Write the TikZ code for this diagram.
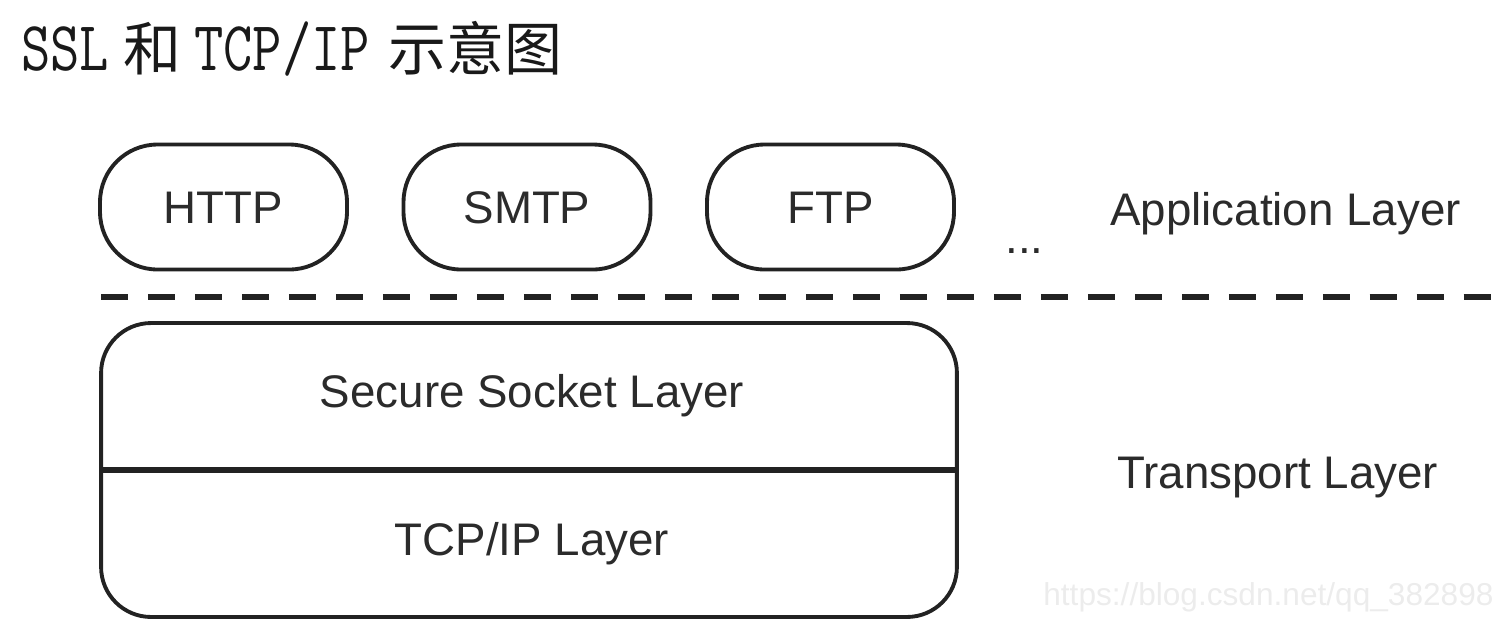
\documentclass[tikz,border=0pt]{standalone}
\usepackage{fontspec}
\usepackage{graphicx}
\setmainfont{Liberation Sans}
\newfontfamily\cjk{Noto Sans CJK SC}
\newcommand{\tlatin}[1]{\scalebox{0.81}[1]{\ttfamily\fontsize{40}{44}\selectfont #1}}
\definecolor{ink}{HTML}{222222}
\definecolor{txt}{HTML}{2B2B2B}
\definecolor{wm}{HTML}{ECECEC}
\tikzset{
  pill/.style={draw=ink, line width=2.2pt, rounded corners=1.15cm, minimum width=4.94cm, minimum height=2.5cm, inner sep=0pt},
  stackbox/.style={draw=ink, line width=2.2pt, rounded corners=1cm, minimum width=17.12cm, minimum height=5.88cm, inner sep=0pt},
  lbl/.style={text=txt, font=\fontsize{26}{30}\selectfont, inner sep=0pt},
  ttl/.style={text=black!90, inner sep=0pt, anchor=base west},
  divider/.style={draw=ink, line width=3.2pt},
  sep/.style={draw=ink, line width=3pt, dash pattern=on 0.54cm off 0.4cm},
}
\begin{document}
\begin{tikzpicture}[x=0.02cm,y=-0.02cm]
\useasboundingbox (0,0) rectangle (1498,630);
% title
\node[ttl] (t1) at (21,70) {\tlatin{SSL}};
\node[ttl, font=\cjk\fontsize{33}{36}\selectfont] (t2) at (123,70) {和};
\node[ttl] (t3) at (194,70) {\tlatin{TCP/IP}};
\node[ttl, font=\cjk\fontsize{33}{36}\selectfont] (t4) at (388,70) {示意图};
% application layer
\node[pill] (http) at (223.5,207) {};
\node[pill] (smtp) at (527,207) {};
\node[pill] (ftp) at (830.5,207) {};
\node[lbl, anchor=base] (httpt) at (http.center |- 0,223) {HTTP};
\node[lbl, anchor=base] (smtpt) at (smtp.center |- 0,223) {SMTP};
\node[lbl, anchor=base] (ftpt) at (ftp.center |- 0,223) {FTP};
\node[lbl, anchor=base west] (dots) at (1005,253) {...};
\node[lbl, anchor=base west] (app) at (1110,225) {Application Layer};
% separator
\coordinate (sepL) at (101,297);
\coordinate (sepR) at (1500,297);
\draw[sep] (sepL) -- (sepR);
% transport layer
\node[stackbox] (stack) at (529,470) {};
\draw[divider] (stack.west) -- (stack.east);
\node[lbl, anchor=base] (ssl) at (532,407) {Secure Socket Layer};
\node[lbl, anchor=base] (tcp) at (532,555) {TCP/IP Layer};
\node[lbl, anchor=base west] (trans) at (1117,488) {Transport Layer};
% watermark
\node[anchor=base west, inner sep=0pt, text=wm, font=\fontsize{18}{20}\selectfont] (wmk) at (1043,605) {https://blog.csdn.net/qq\_382898};
\end{tikzpicture}
\end{document}
